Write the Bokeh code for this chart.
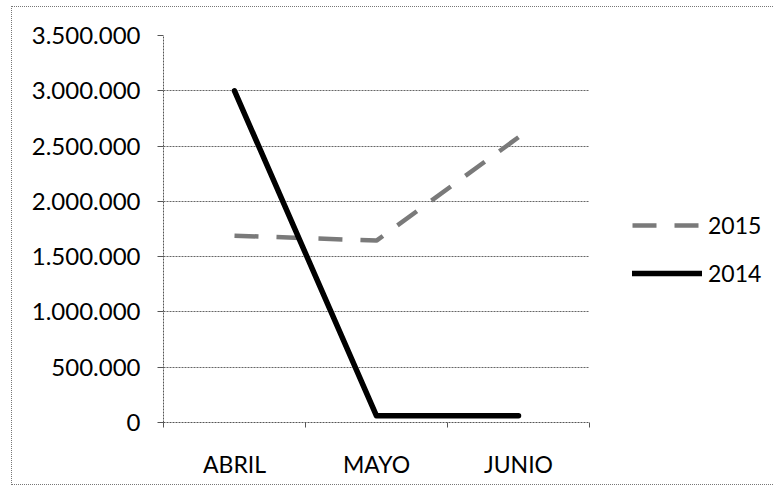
from bokeh.plotting import figure
from bokeh.models import FixedTicker, Range1d, Legend, LegendItem
from bokeh.embed import file_html
from bokeh.resources import INLINE

categories = ["ABRIL", "MAYO", "JUNIO"]
serie_2015 = [1690000, 1645000, 2580000]
serie_2014 = [3000000, 60000, 60000]
y_ticks = [0, 500000, 1000000, 1500000, 2000000, 2500000, 3000000, 3500000]
y_labels = ["0", "500.000", "1.000.000", "1.500.000", "2.000.000",
            "2.500.000", "3.000.000", "3.500.000"]

FONT = "Lato"
xs = [i + 0.5 for i in range(len(categories))]

p = figure(frame_width=426, frame_height=387, output_backend="svg", toolbar_location=None,
           x_range=Range1d(0, len(categories)), y_range=Range1d(0, 3500000),
           min_border_left=151, min_border_right=60, min_border_top=28,
           min_border_bottom=62)
p.styles = {"border": "1px dotted #777", "margin-left": "11px", "margin-top": "6px"}
p.outline_line_color = None

r15 = p.line(xs, serie_2015, line_color="#7a7a7a", line_width=4.5,
             line_dash="24 18")
r14 = p.line(xs, serie_2014, line_color="black", line_width=5.5,
             line_cap="round", line_join="round")

# x axis
p.xaxis.ticker = FixedTicker(ticks=xs, minor_ticks=list(range(len(categories) + 1)))
p.xaxis.major_label_overrides = {x: c for x, c in zip(xs, categories)}
p.xaxis.major_tick_out = 0
p.xaxis.major_tick_in = 0
p.xaxis.minor_tick_out = 5
p.xaxis.minor_tick_in = 0
p.xaxis.minor_tick_line_color = "#555"
p.xaxis.axis_line_color = "#555"
p.xaxis.axis_line_dash = "2 1"
p.xaxis.major_label_text_font = FONT
p.xaxis.major_label_text_font_size = "23px"
p.xaxis.major_label_text_color = "black"
p.xaxis.major_label_standoff = 22

# y axis
p.yaxis.ticker = FixedTicker(ticks=y_ticks)
p.yaxis.major_label_overrides = {t: l for t, l in zip(y_ticks, y_labels)}
p.yaxis.major_tick_out = 6
p.yaxis.major_tick_in = 0
p.yaxis.minor_tick_out = 0
p.yaxis.minor_tick_in = 0
p.yaxis.major_tick_line_color = "#555"
p.yaxis.axis_line_color = "#555"
p.yaxis.axis_line_dash = "2 1"
p.yaxis.major_label_text_font = FONT
p.yaxis.major_label_text_font_size = "24px"
p.yaxis.major_label_text_color = "black"
p.yaxis.major_label_standoff = 17

p.xgrid.grid_line_color = None
p.ygrid.grid_line_color = "#666"
p.ygrid.grid_line_dash = "2 1"
p.ygrid.grid_line_width = 1

legend = Legend(items=[LegendItem(label="2015", renderers=[r15]),
                       LegendItem(label="2014", renderers=[r14])],
                location=(43, 135), orientation="vertical")
legend.glyph_width = 70
legend.glyph_height = 24
legend.label_height = 24
legend.spacing = 20
legend.padding = 0
legend.margin = 0
legend.border_line_color = None
legend.background_fill_alpha = 0
legend.label_text_font = FONT
legend.label_text_font_size = "23px"
legend.label_text_color = "black"
legend.label_standoff = 6
p.add_layout(legend, "right")

open("out.html", "w").write(file_html(p, INLINE))
